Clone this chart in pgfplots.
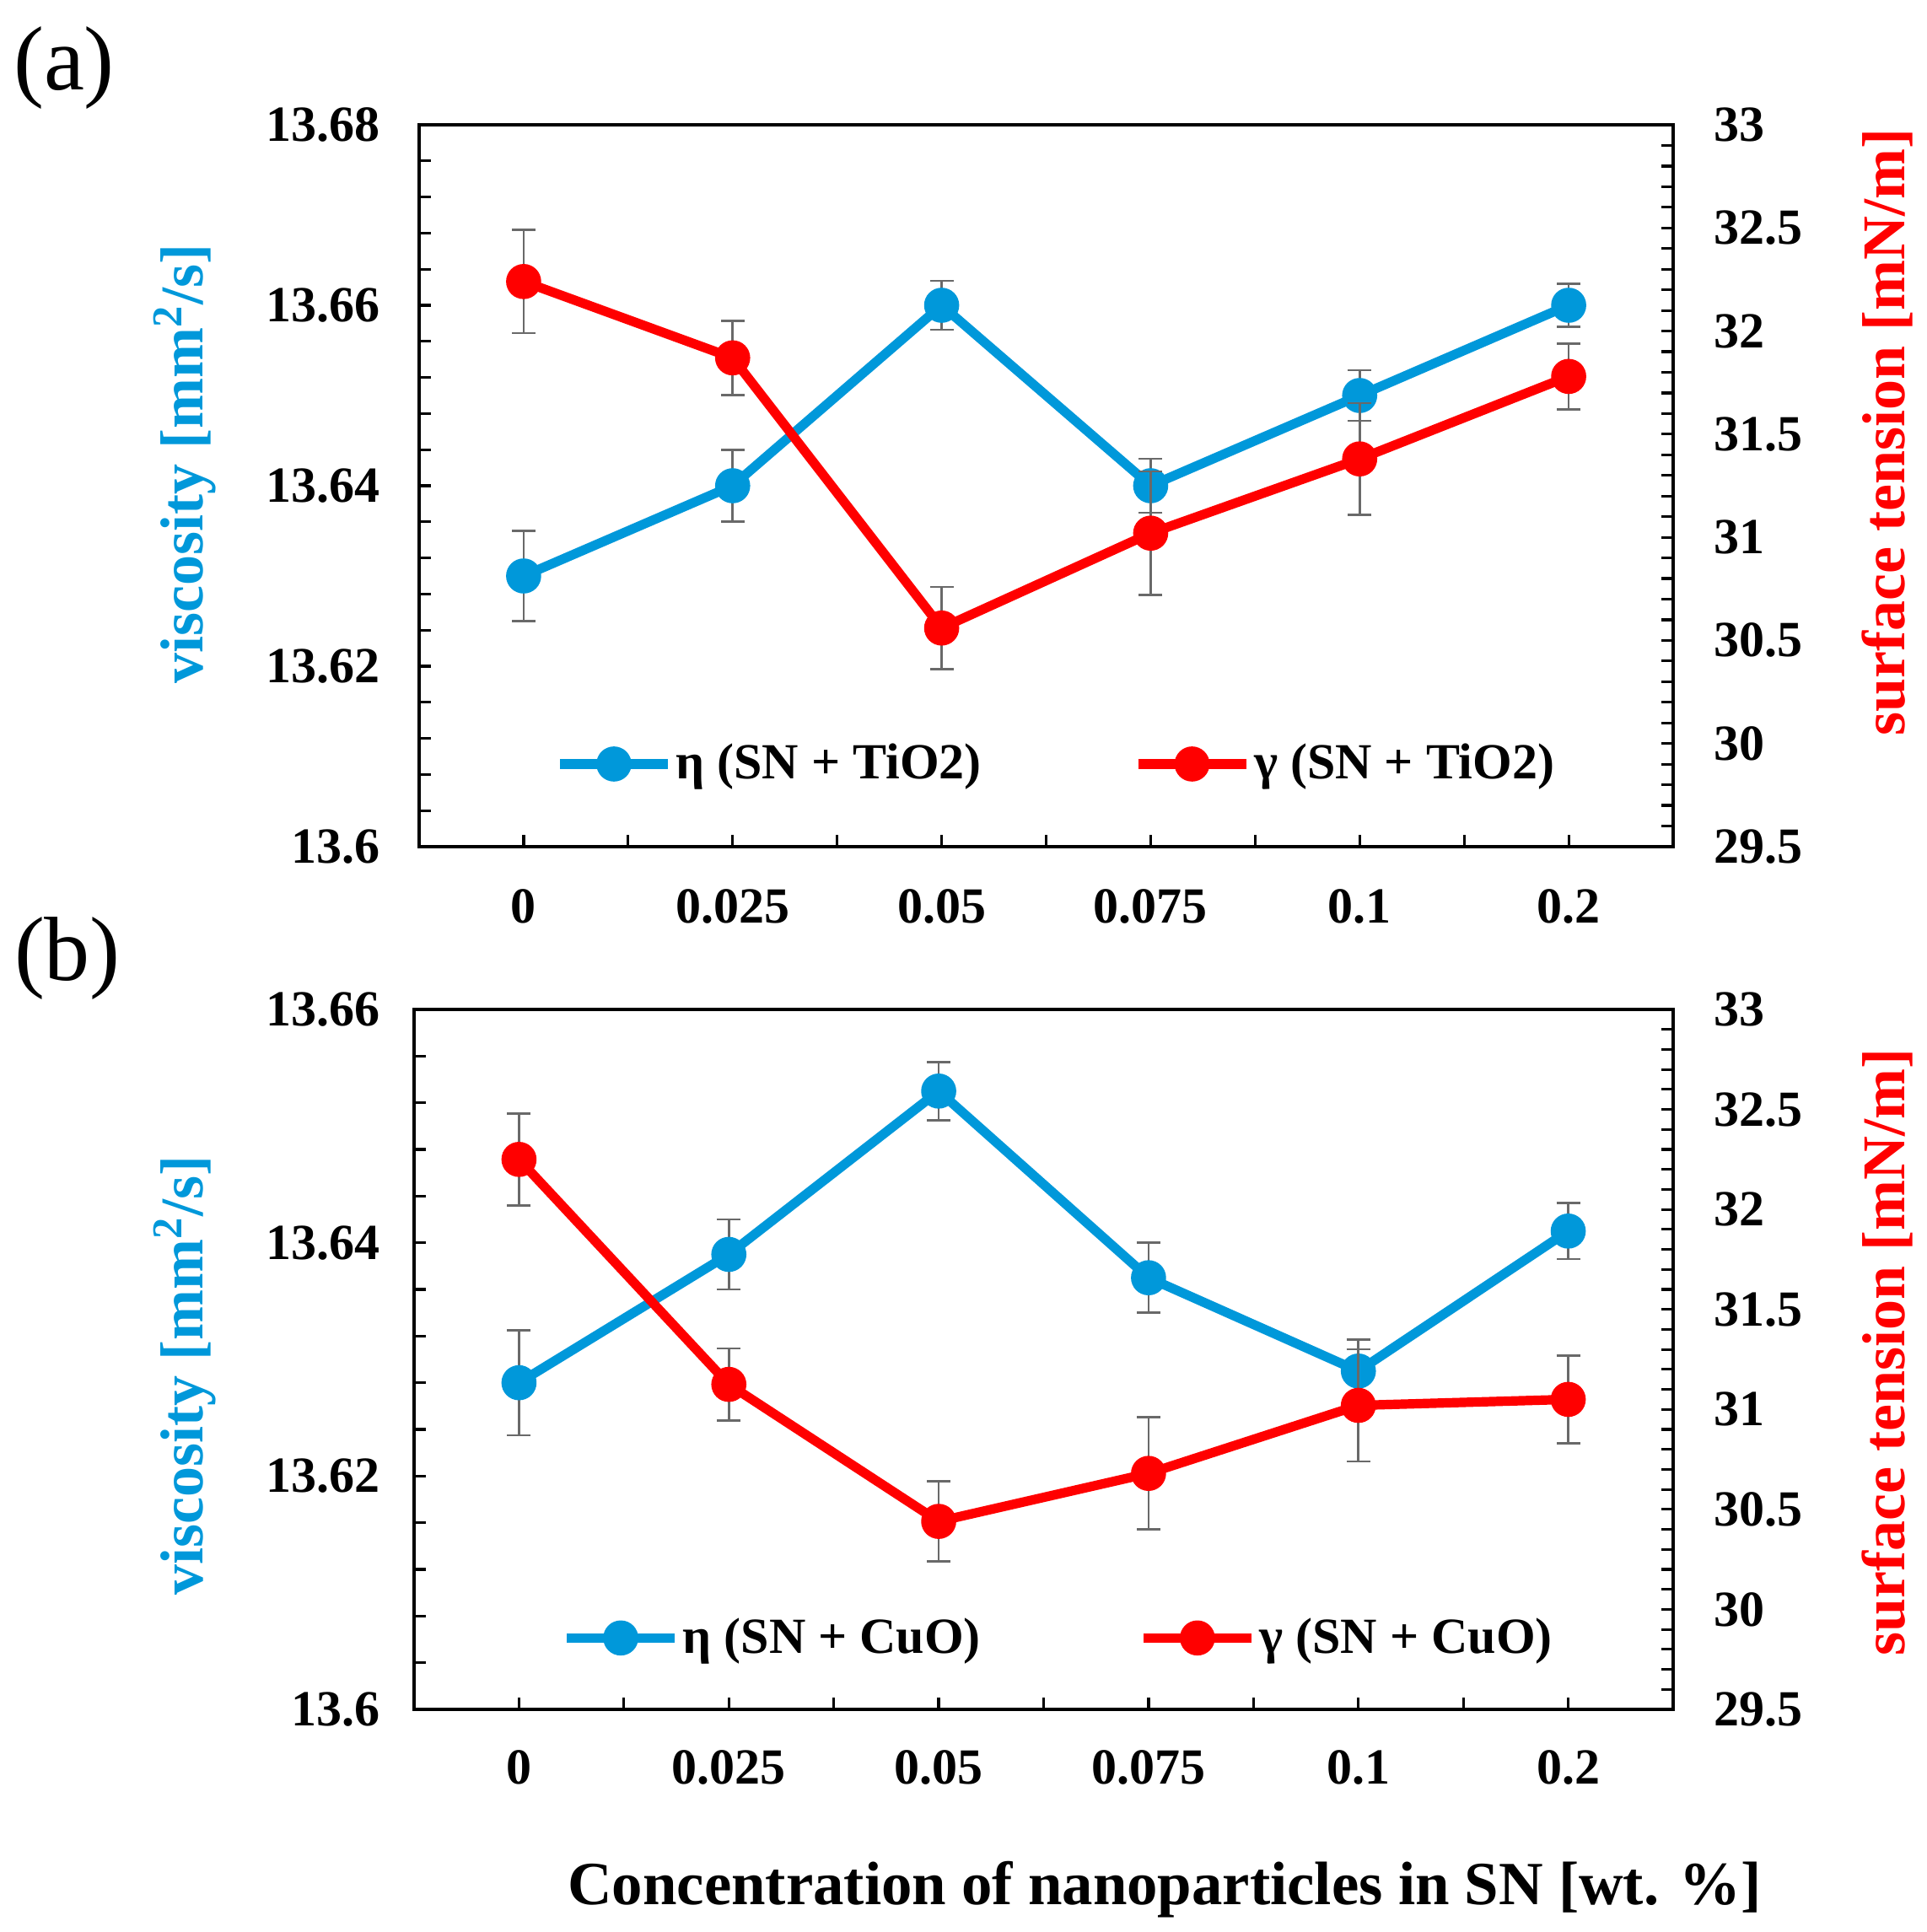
\documentclass[border=0pt]{standalone}
\usepackage{fontspec}
\setmainfont{Liberation Serif}
\usepackage{pgfplots}
\pgfplotsset{compat=1.18}
\definecolor{vblue}{RGB}{0,152,218}
\definecolor{ebar}{RGB}{105,105,105}
\pgfplotsset{
  common/.style={
    scale only axis,
    xmin=-0.5, xmax=5.5,
    tick align=inside,
    major tick length=3.4pt, minor tick length=3.4pt,
    tick style={black, line width=0.8pt},
    axis line style={line width=0.8pt},
    /pgf/number format/assume math mode=true,
    tick label style={font=\fontsize{15}{18}\selectfont\bfseries},
    minor y tick num=4,
    legend style={draw=none, fill=none, inner sep=0pt, anchor=west,
      font=\fontsize{15}{18}\selectfont\bfseries, nodes={inner sep=1pt}},
    legend image code/.code={\draw[mark repeat=2,mark phase=2,#1] plot coordinates {(0pt,0pt) (16pt,0pt) (32pt,0pt)};},
  },
  leftax/.style={
    ytick pos=left, xtick pos=bottom,
    xtick={0,...,5}, xticklabels={0,0.025,0.05,0.075,0.1,0.2},
    minor xtick={0.5,1.5,2.5,3.5,4.5},
    ylabel={viscosity [mm\textsuperscript{2}/s]},
  },
  rightax/.style={
    axis x line=none, ytick pos=right, yticklabel pos=right,
    ymin=29.5, ymax=33, ytick={29.5,30,30.5,31,31.5,32,32.5,33},
    yticklabels={29.5,30,30.5,31,31.5,32,32.5,33},
    yticklabel style={xshift=8.5pt},
    ylabel={surface tension [mN/m]},
  },
  ser/.style={line width=2.8pt, mark=*, mark size=3.8pt, mark options={solid},
    error bars/.cd, y dir=both, y explicit,
    error bar style={ebar, line width=0.65pt},
    error mark options={ebar, line width=0.65pt, rotate=90, mark size=3.5pt}},
}
\begin{document}
\begin{tikzpicture}
\path[use as bounding box] (0,0) rectangle (571pt,572.75pt);
% ---------- panel (a)
\begin{axis}[common, leftax, at={(124.25pt,321.75pt)}, anchor=south west,
  width=371.75pt, height=214pt,
  ymin=13.6, ymax=13.68, ytick={13.6,13.62,13.64,13.66,13.68},
  yticklabels={13.6,13.62,13.64,13.66,13.68},
  xticklabel style={yshift=-9pt}, yticklabel style={xshift=-8pt},
  ylabel style={at={(axis description cs:-0.187,0.53)}, anchor=center,
    font=\fontsize{18}{22}\selectfont\bfseries, color=vblue},
  legend style={at={(axis description cs:0.108,0.1145)}}]
\addplot[vblue, ser] coordinates {
 (0,13.630) +- (0,0.005)
 (1,13.640) +- (0,0.004)
 (2,13.660) +- (0,0.0027)
 (3,13.640) +- (0,0.003)
 (4,13.650) +- (0,0.0028)
 (5,13.660) +- (0,0.0024)};
\addlegendentry{η (SN + TiO2)}
\end{axis}
\begin{axis}[common, rightax, at={(124.25pt,321.75pt)}, anchor=south west,
  width=371.75pt, height=214pt,
  ylabel style={at={(axis description cs:1.1705,0.574)}, anchor=center,
    font=\fontsize{18}{22}\selectfont\bfseries, color=red},
  legend style={at={(axis description cs:0.569,0.1145)}}]
\addplot[red, ser] coordinates {
 (0,32.24) +- (0,0.25)
 (1,31.87) +- (0,0.18)
 (2,30.56) +- (0,0.20)
 (3,31.02) +- (0,0.30)
 (4,31.38) +- (0,0.27)
 (5,31.78) +- (0,0.16)};
\addlegendentry{γ (SN + TiO2)}
\end{axis}
% ---------- panel (b)
\begin{axis}[common, leftax, at={(122.75pt,66pt)}, anchor=south west,
  width=373.25pt, height=207.5pt,
  ymin=13.6, ymax=13.66, ytick={13.6,13.62,13.64,13.66},
  yticklabels={13.6,13.62,13.64,13.66},
  xticklabel style={yshift=-8.5pt}, yticklabel style={xshift=-6.5pt},
  ylabel style={at={(axis description cs:-0.182,0.477)}, anchor=center,
    font=\fontsize{18}{22}\selectfont\bfseries, color=vblue},
  legend style={at={(axis description cs:0.117,0.102)}}]
\addplot[vblue, ser] coordinates {
 (0,13.628) +- (0,0.0045)
 (1,13.639) +- (0,0.003)
 (2,13.653) +- (0,0.0025)
 (3,13.637) +- (0,0.003)
 (4,13.629) +- (0,0.0027)
 (5,13.641) +- (0,0.0024)};
\addlegendentry{η (SN + CuO)}
\end{axis}
\begin{axis}[common, rightax, at={(122.75pt,66pt)}, anchor=south west,
  width=373.25pt, height=207.5pt,
  ylabel style={at={(axis description cs:1.1698,0.51)}, anchor=center,
    font=\fontsize{18}{22}\selectfont\bfseries, color=red},
  legend style={at={(axis description cs:0.575,0.102)}}]
\addplot[red, ser] coordinates {
 (0,32.25) +- (0,0.23)
 (1,31.125) +- (0,0.18)
 (2,30.44) +- (0,0.20)
 (3,30.68) +- (0,0.28)
 (4,31.02) +- (0,0.28)
 (5,31.05) +- (0,0.22)};
\addlegendentry{γ (SN + CuO)}
\end{axis}
\node[font=\fontsize{27}{32}\selectfont] at (19pt,552.5pt) {(a)};
\node[font=\fontsize{27}{32}\selectfont] at (20pt,288.5pt) {(b)};
\node[font=\fontsize{18.2}{22}\selectfont\bfseries] at (345.25pt,12.5pt) {Concentration of nanoparticles in SN [wt. \%]};
\end{tikzpicture}
\end{document}
